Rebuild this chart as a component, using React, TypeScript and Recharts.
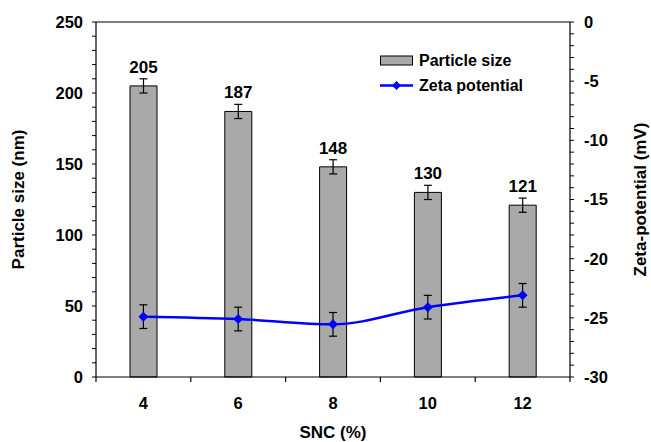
import { ComposedChart, Bar, Line, XAxis, YAxis, ErrorBar, LabelList, Legend, ReferenceLine } from 'recharts'

const snc = ['4', '6', '8', '10', '12']
const particleSize = [205, 187, 148, 130, 121]
const sizeError = [5, 5, 5, 5, 5]
const zeta = [-24.9, -25.1, -25.55, -24.1, -23.1]
const zetaError = [1, 1, 1, 1, 1]

const leftTicks = [0, 10, 20, 30, 40, 50, 60, 70, 80, 90, 100, 110, 120, 130, 140, 150, 160, 170, 180, 190, 200, 210, 220, 230, 240, 250]
const rightTicks = [-30, -29, -28, -27, -26, -25, -24, -23, -22, -21, -20, -19, -18, -17, -16, -15, -14, -13, -12, -11, -10, -9, -8, -7, -6, -5, -4, -3, -2, -1, 0]

const W = 651
const H = 442
const LEFT_W = 96
const RIGHT_W = 81
const PLOT_W = W - LEFT_W - RIGHT_W
const FONT = '"Liberation Sans", Arial, sans-serif'

const chartData = snc.map((s, i) => ({
  snc: s,
  size: particleSize[i],
  sizeErr: sizeError[i],
  zeta: zeta[i],
  zetaErr: zetaError[i],
}))

function LeftTick({ x, y, payload }: any) {
  if (payload.value % 50 !== 0) return null
  return (
    <text x={x} y={y} dy="0.36em" textAnchor="end" fontSize={16.5} fontWeight="bold" fontFamily={FONT} fill="#000">
      {payload.value}
    </text>
  )
}

function RightTick({ x, y, payload }: any) {
  if (payload.value % 5 !== 0) return null
  return (
    <text x={x} y={y} dy="0.36em" textAnchor="start" fontSize={16.5} fontWeight="bold" fontFamily={FONT} fill="#000">
      {payload.value}
    </text>
  )
}

function BottomTick({ x, y, payload, index }: any) {
  const step = PLOT_W / snc.length
  const axisY = y
  return (
    <g>
      <line x1={x - step / 2} x2={x - step / 2} y1={axisY} y2={axisY + 5} stroke="#000" strokeWidth={1.2} />
      {index === snc.length - 1 && (
        <line x1={x + step / 2} x2={x + step / 2} y1={axisY} y2={axisY + 5} stroke="#000" strokeWidth={1.2} />
      )}
      <text x={x} y={axisY + 26} dy="0.36em" textAnchor="middle" fontSize={16.5} fontWeight="bold" fontFamily={FONT} fill="#000">
        {payload.value}
      </text>
    </g>
  )
}

function Diamond({ cx, cy }: any) {
  if (cx == null || cy == null) return null
  const r = 5
  return <polygon points={`${cx},${cy - r} ${cx + r},${cy} ${cx},${cy + r} ${cx - r},${cy}`} fill="#0000ff" />
}

function LegendBox() {
  const rowStyle = { display: 'flex', alignItems: 'center', height: 25 }
  const textStyle = { fontFamily: FONT, fontWeight: 'bold' as const, fontSize: 16, color: '#000', marginLeft: 6 }
  return (
    <div>
      <div style={rowStyle}>
        <svg width={33} height={11}>
          <rect x={0.5} y={1} width={32} height={9} fill="#a9a9a9" stroke="#000" strokeWidth={1} />
        </svg>
        <span style={textStyle}>Particle size</span>
      </div>
      <div style={rowStyle}>
        <svg width={33} height={11}>
          <line x1={0} x2={33} y1={5.5} y2={5.5} stroke="#0000ff" strokeWidth={2.5} />
          <polygon points="16.5,1 21,5.5 16.5,10 12,5.5" fill="#0000ff" />
        </svg>
        <span style={textStyle}>Zeta potential</span>
      </div>
    </div>
  )
}

export default function App() {
  return (
    <div style={{ position: 'absolute', left: 0, top: 0, background: '#fff' }}>
      <ComposedChart width={W} height={H} data={chartData} margin={{ top: 22, right: 0, bottom: 0, left: 0 }}>
        <XAxis
          dataKey="snc"
          height={65}
          tickLine={false}
          tickMargin={0}
          tickSize={0}
          axisLine={{ stroke: '#000', strokeWidth: 1.2 }}
          tick={<BottomTick />}
          interval={0}
          label={{ value: 'SNC (%)', position: 'insideBottom', offset: 4, fill: '#000', fontSize: 17, fontWeight: 'bold', fontFamily: FONT }}
        />
        <YAxis
          yAxisId="left"
          width={LEFT_W}
          domain={[0, 250]}
          ticks={leftTicks}
          interval={0}
          tickSize={4}
          tickMargin={9}
          tickLine={{ stroke: '#000', strokeWidth: 1 }}
          axisLine={{ stroke: '#000', strokeWidth: 1.2 }}
          tick={<LeftTick />}
          label={{ value: 'Particle size (nm)', angle: -90, position: 'insideLeft', offset: 18, fill: '#000', fontSize: 17, fontWeight: 'bold', fontFamily: FONT, style: { textAnchor: 'middle' } }}
        />
        <YAxis
          yAxisId="right"
          orientation="right"
          width={RIGHT_W}
          domain={[-30, 0]}
          ticks={rightTicks}
          interval={0}
          tickSize={4}
          tickMargin={10}
          tickLine={{ stroke: '#000', strokeWidth: 1 }}
          axisLine={{ stroke: '#000', strokeWidth: 1.2 }}
          tick={<RightTick />}
          label={{ value: 'Zeta-potential (mV)', angle: -90, position: 'insideRight', offset: 11, fill: '#000', fontSize: 17, fontWeight: 'bold', fontFamily: FONT, style: { textAnchor: 'middle' } }}
        />
        <ReferenceLine yAxisId="left" y={250} stroke="#000" strokeWidth={1.2} />
        <Legend
          layout="horizontal"
          verticalAlign="middle"
          align="center"
          content={<LegendBox />}
          wrapperStyle={{ left: 380, top: 48, width: 'auto', height: 'auto' }}
        />
        <Bar yAxisId="left" dataKey="size" barSize={27} fill="#a9a9a9" stroke="#000" strokeWidth={1} isAnimationActive={false}>
          <ErrorBar dataKey="sizeErr" width={4} stroke="#000" strokeWidth={1.2} direction="y" />
          <LabelList dataKey="size" position="top" offset={13} fill="#000" fontSize={17} fontWeight="bold" fontFamily={FONT} />
        </Bar>
        <Line
          yAxisId="right"
          type="monotone"
          dataKey="zeta"
          stroke="#0000ff"
          strokeWidth={2.5}
          dot={<Diamond />}
          activeDot={false}
          isAnimationActive={false}
        >
          <ErrorBar dataKey="zetaErr" width={4} stroke="#000" strokeWidth={1.2} direction="y" />
        </Line>
      </ComposedChart>
    </div>
  )
}
